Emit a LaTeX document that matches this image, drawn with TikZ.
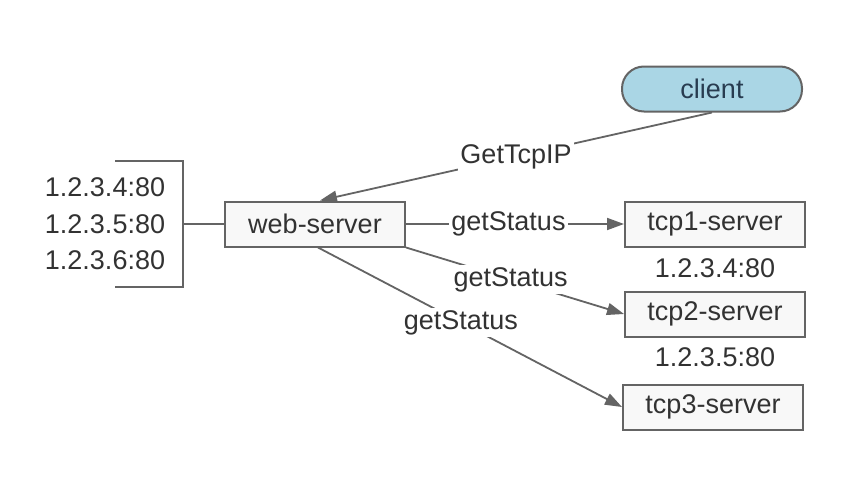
\documentclass[tikz,border=0pt]{standalone}
\usepackage{fontspec}
\setmainfont{Liberation Sans}
\usetikzlibrary{arrows.meta}
\definecolor{linegray}{RGB}{100,100,100}
\definecolor{boxfill}{RGB}{248,248,248}
\definecolor{txtgray}{RGB}{50,50,50}
\definecolor{clientfill}{RGB}{170,214,229}
\definecolor{clienttxt}{RGB}{40,60,80}
\tikzset{
  srv/.style={draw=linegray, line width=2pt, fill=boxfill, minimum width=180pt, minimum height=45pt, inner sep=0pt, text=txtgray, font=\fontsize{27}{31}\selectfont},
  cli/.style={draw=linegray, line width=2pt, fill=clientfill, rounded corners=22pt, minimum width=180pt, minimum height=45pt, inner sep=0pt, text=clienttxt, font=\fontsize{27}{31}\selectfont},
  txt/.style={text=txtgray, inner sep=1pt, font=\fontsize{27}{31}\selectfont},
  lbl/.style={fill=white, text=txtgray, inner sep=2pt, font=\fontsize{27}{31}\selectfont},
  conn/.style={draw=linegray, line width=1.8pt},
  arr/.style={conn, -{Triangle[length=17pt,width=12pt]}}
}
\begin{document}
\begin{tikzpicture}[x=1pt,y=-1pt]
\useasboundingbox (0,0) rectangle (856,490);
\fill[white] (0,0) rectangle (856,490);
\node[cli] (client) at (712,89) {client};
\node[srv] (ws) at (315,224) {web-server};
\node[srv] (t1) at (715,224) {tcp1-server};
\node[srv] (t2) at (715,314) {tcp2-server};
\node[srv] (t3) at (713,407) {tcp3-server};
\node[txt] (ip1) at (715,268) {1.2.3.4:80};
\node[txt] (ip2) at (715,357) {1.2.3.5:80};
\node[txt] (l1) at (105,187) {1.2.3.4:80};
\node[txt] (l2) at (105,224) {1.2.3.5:80};
\node[txt] (l3) at (105,260) {1.2.3.6:80};
\coordinate (bt0) at (115,161);
\coordinate (bt1) at (183,161);
\coordinate (bm) at (183,224);
\coordinate (bb1) at (183,287);
\coordinate (bb0) at (115,287);
\draw[conn] (bt0) -- (bt1) -- (bb1) -- (bb0);
\draw[conn] (bm) -- (ws.west);
\draw[arr] (client.south) -- node[lbl, pos=0.5] {GetTcpIP} ([xshift=5pt]ws.north);
\draw[arr] (ws.east) -- node[lbl, pos=0.47] {getStatus} (t1.west);
\draw[arr] (ws.south east) -- node[lbl, pos=0.48] {getStatus} (t2.west);
\draw[arr] ([xshift=3pt]ws.south) -- node[lbl, pos=0.47] {getStatus} (t3.west);
\end{tikzpicture}
\end{document}
